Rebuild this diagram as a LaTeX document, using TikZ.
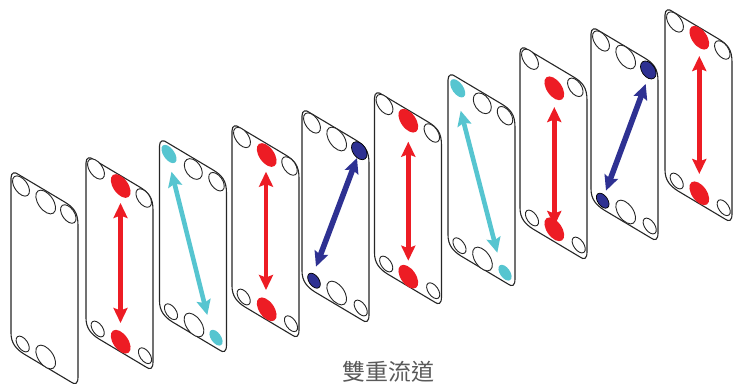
\documentclass[tikz,border=0pt]{standalone}
\usepackage{fontspec}
\newfontfamily\cjkfont{Noto Sans CJK TC}
\usetikzlibrary{arrows.meta}
\definecolor{flowred}{HTML}{ED1C24}
\definecolor{flowcyan}{HTML}{56C5D0}
\definecolor{flownavy}{HTML}{2E3192}
\tikzset{
  plateline/.style={draw=black!85,line width=1.1pt,fill=white},
  openhole/.style={draw=black!85,line width=0.9pt,fill=white},
  redport/.style={fill=flowred},
  cyanport/.style={fill=flowcyan},
  navyport/.style={fill=flownavy,draw=black,line width=0.7pt},
  flow/.style={line width=4.6pt,{Stealth[length=15pt,width=14pt,inset=2.5pt]}-{Stealth[length=15pt,width=14pt,inset=2.5pt]}},
  redflow/.style={flow,draw=flowred},
  cyanflow/.style={flow,draw=flowcyan},
  navyflow/.style={flow,draw=flownavy,line width=5.6pt},
  platecaption/.style={font=\cjkfont\fontsize{23}{23}\selectfont,text=black!65,inner sep=0pt}
}
% outline of one plate, in local pixels (y runs down the picture)
\newcommand\plateoutline{%
  \path[plateline] (0,8) .. controls (0,2) and (4,1.5) .. (8,4.8)
    -- (53,31.6) .. controls (62,37) and (67,42) .. (67,55)
    -- (67,207) .. controls (67,214) and (64,215) .. (60,212)
    -- (13,184) .. controls (5,179) and (0,173) .. (0,163) -- cycle;}
% \porthole[style]{x}{y}{long radius}{short radius}
\newcommand\porthole[5][openhole]{%
  \path[#1] (#2,#3) [rotate around={55:(#2,#3)}] ellipse [x radius=#4pt,y radius=#5pt];}
\begin{document}
\begin{tikzpicture}[x=1pt,y=1pt]
\useasboundingbox (0,0) rectangle (739,-383);
\clip (0,0) rectangle (739,-383);
\begin{scope}[yscale=-1]
% plate 1
\begin{scope}[shift={(11,170)}]
  \plateoutline
  \porthole{10}{16}{11.5}{6.5}
  \porthole{34.7}{32}{13.5}{7.5}
  \porthole{57.3}{44}{10.5}{6}
  \porthole{11.7}{174}{9}{5}
  \porthole{34.7}{187}{13.5}{7.5}
\end{scope}
% plate 2
\begin{scope}[shift={(86,155)}]
  \plateoutline
  \porthole{10}{14}{11.5}{6.5}
  \porthole[redport]{34.7}{31}{13.5}{7.5}
  \porthole{57.7}{43}{10.5}{6}
  \porthole{11.7}{174}{9}{5}
  \porthole[redport]{34.7}{186.7}{13.5}{7.5}
  \porthole{59}{200.7}{9}{5}
  \coordinate (p2a) at (34.5,48);
  \coordinate (p2b) at (34.5,168);
  \draw[redflow] (p2a) -- (p2b);
\end{scope}
% plate 3
\begin{scope}[shift={(159.5,138)}]
  \plateoutline
  \porthole[cyanport]{9.5}{16}{10.5}{5.5}
  \porthole{33.8}{31}{11.5}{7.5}
  \porthole{57}{43.7}{10.5}{6}
  \porthole{11.5}{173.7}{9}{5}
  \porthole{34.5}{187}{13.5}{7.5}
  \porthole[cyanport]{56.5}{199.7}{9}{5}
  \coordinate (p3a) at (12,33.7);
  \coordinate (p3b) at (47.8,177);
  \draw[cyanflow] (p3a) -- (p3b);
\end{scope}
% plate 4
\begin{scope}[shift={(232,123)}]
  \plateoutline
  \porthole{10}{14.5}{11.5}{6.5}
  \porthole[redport]{34.7}{32}{13.5}{7.5}
  \porthole{57.5}{43}{10.5}{6}
  \porthole{11.7}{174}{9}{5}
  \porthole[redport]{34.7}{186.3}{13.5}{7.5}
  \porthole{59}{200.7}{9}{5}
  \coordinate (p4a) at (34,48.7);
  \coordinate (p4b) at (34,167);
  \draw[redflow] (p4a) -- (p4b);
\end{scope}
% plate 5
\begin{scope}[shift={(302,108)}]
  \plateoutline
  \porthole{10}{15}{11.5}{6.5}
  \porthole{34.7}{31}{13.5}{7.5}
  \porthole[navyport]{57.3}{42.7}{10}{6.5}
  \porthole[navyport]{12}{172.7}{8.5}{5}
  \porthole{34.7}{185}{13.5}{7.5}
  \porthole{58.7}{200}{9}{5}
  \coordinate (p5a) at (55,50);
  \coordinate (p5b) at (14,158.7);
  \draw[navyflow] (p5a) -- (p5b);
\end{scope}
% plate 6
\begin{scope}[shift={(374.5,90)}]
  \plateoutline
  \porthole{10}{14.5}{11.5}{6.5}
  \porthole[redport]{33.8}{30.7}{13.5}{7.5}
  \porthole{57.3}{43}{10.5}{6}
  \porthole{11.7}{174}{9}{5}
  \porthole[redport]{33.8}{186.7}{13.5}{7.5}
  \porthole{58.7}{200.7}{9}{5}
  \coordinate (p6a) at (33.8,51.7);
  \coordinate (p6b) at (33.8,170.7);
  \draw[redflow] (p6a) -- (p6b);
\end{scope}
% plate 7
\begin{scope}[shift={(448,72)}]
  \plateoutline
  \porthole[cyanport]{9.7}{16.3}{10.5}{5.5}
  \porthole{34.3}{31.3}{11.5}{7.5}
  \porthole{57}{43.7}{10.5}{6}
  \porthole{11.5}{173.7}{9}{5}
  \porthole{34.5}{187}{13.5}{7.5}
  \porthole[cyanport]{57}{200.7}{9}{5}
  \coordinate (p7a) at (12.7,38.7);
  \coordinate (p7b) at (49.3,180.7);
  \draw[cyanflow] (p7a) -- (p7b);
\end{scope}
% plate 8
\begin{scope}[shift={(520,45)}]
  \plateoutline
  \porthole{10}{14.3}{11.5}{6.5}
  \porthole[redport]{34.3}{43.3}{13.5}{7.5}
  \porthole{55.3}{42.3}{10.5}{6}
  \porthole{12}{173}{9}{5}
  \coordinate (p8a) at (34.3,62);
  \coordinate (p8b) at (34.3,181);
  \draw[redflow] (p8a) -- (p8b);
  \porthole[redport]{34.3}{184.3}{13.5}{7.5}
  \porthole{58.7}{200}{9}{5}
\end{scope}
% plate 9
\begin{scope}[shift={(591,26)}]
  \plateoutline
  \porthole{10}{15}{11.5}{6.5}
  \porthole{34.7}{31}{13.5}{7.5}
  \porthole[navyport]{57.3}{44}{10}{6.5}
  \porthole[navyport]{11.7}{174.7}{8.5}{5}
  \porthole{34.7}{186}{13.5}{7.5}
  \porthole{58.7}{200}{9}{5}
  \coordinate (p9a) at (54.7,58);
  \coordinate (p9b) at (15,164.7);
  \draw[navyflow] (p9a) -- (p9b);
\end{scope}
% plate 10
\begin{scope}[shift={(665,7)}]
  \plateoutline
  \porthole{10}{15}{11.5}{6.5}
  \porthole[redport]{34.3}{30.7}{13.5}{7.5}
  \porthole{57.3}{43}{10.5}{6}
  \porthole{11.7}{174}{9}{5}
  \porthole[redport]{34.3}{186.3}{13.5}{7.5}
  \porthole{58.7}{200.7}{9}{5}
  \coordinate (p10a) at (34.3,49);
  \coordinate (p10b) at (34.3,167);
  \draw[redflow] (p10a) -- (p10b);
\end{scope}
\node[platecaption] (caption) at (388.5,371.5) {雙重流道};
\end{scope}
\end{tikzpicture}
\end{document}
